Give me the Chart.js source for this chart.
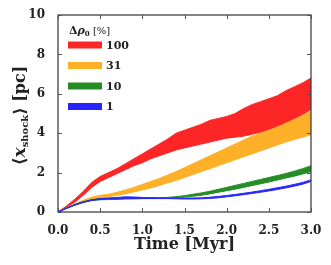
<!DOCTYPE html>
<html>
<head>
<meta charset="utf-8">
<script src="https://cdn.jsdelivr.net/npm/chart.js@4"></script>
<style>
  html, body { margin: 0; padding: 0; background: #fff; }
  #wrap { width: 331px; height: 265px; }
</style>
</head>
<body>
<div id="wrap"><canvas id="shock-chart" width="331" height="265"></canvas></div>
<script>
// time axis, Myr
const times = [0, 0.1, 0.2, 0.3, 0.4, 0.5, 0.6, 0.7, 0.8, 0.9, 1.0, 1.1, 1.2, 1.3, 1.4, 1.5,
    1.6, 1.7, 1.8, 1.9, 2.0, 2.1, 2.2, 2.3, 2.4, 2.5, 2.6, 2.7, 2.8, 2.9, 3.0];

// band edges of <x_shock> in pc, one pair per density contrast
const upper100 = [0, 0.3, 0.65, 1.05, 1.5, 1.8, 2.0, 2.2, 2.45, 2.7, 2.95, 3.2, 3.45, 3.7, 4.0, 4.15,
    4.3, 4.45, 4.65, 4.75, 4.85, 5.0, 5.25, 5.45, 5.6, 5.75, 5.9, 6.15, 6.35, 6.55, 6.8];
const lower100 = [0, 0.25, 0.5, 0.85, 1.25, 1.55, 1.75, 1.95, 2.15, 2.35, 2.5, 2.7, 2.85, 3.0, 3.15, 3.25,
    3.35, 3.45, 3.55, 3.65, 3.75, 3.8, 3.85, 3.95, 4.05, 4.15, 4.35, 4.5, 4.7, 4.95, 5.2];
const upper31 = [0, 0.2, 0.4, 0.6, 0.75, 0.85, 0.9, 1.0, 1.12, 1.25, 1.4, 1.55, 1.7, 1.88, 2.05, 2.25,
    2.45, 2.65, 2.85, 3.05, 3.25, 3.45, 3.65, 3.85, 4.0, 4.15, 4.3, 4.5, 4.7, 4.9, 5.1];
const lower31 = [0, 0.2, 0.35, 0.5, 0.62, 0.72, 0.78, 0.85, 0.92, 1.02, 1.12, 1.22, 1.35, 1.48, 1.6, 1.75,
    1.9, 2.05, 2.2, 2.35, 2.5, 2.65, 2.8, 2.95, 3.1, 3.25, 3.4, 3.55, 3.68, 3.8, 3.92];
const upper10 = [0, 0.2, 0.38, 0.52, 0.62, 0.68, 0.7, 0.7, 0.71, 0.72, 0.72, 0.72, 0.72, 0.74, 0.78, 0.83,
    0.9, 0.97, 1.05, 1.15, 1.25, 1.35, 1.45, 1.55, 1.65, 1.75, 1.85, 1.95, 2.07, 2.2, 2.35];
const lower10 = [0, 0.18, 0.35, 0.48, 0.58, 0.62, 0.63, 0.64, 0.66, 0.67, 0.68, 0.69, 0.7, 0.71, 0.73, 0.76,
    0.8, 0.85, 0.92, 1.0, 1.08, 1.16, 1.25, 1.34, 1.43, 1.52, 1.62, 1.72, 1.82, 1.93, 2.05];
const upper1 = [0, 0.2, 0.38, 0.52, 0.62, 0.68, 0.71, 0.74, 0.77, 0.76, 0.74, 0.72, 0.71, 0.71, 0.71, 0.71,
    0.71, 0.72, 0.75, 0.79, 0.84, 0.89, 0.95, 1.01, 1.08, 1.15, 1.23, 1.31, 1.4, 1.5, 1.63];
const lower1 = [0, 0.18, 0.35, 0.49, 0.59, 0.64, 0.66, 0.67, 0.68, 0.68, 0.68, 0.68, 0.68, 0.68, 0.67, 0.66,
    0.66, 0.67, 0.69, 0.72, 0.77, 0.82, 0.88, 0.94, 1.0, 1.07, 1.14, 1.22, 1.31, 1.41, 1.55];

const contrasts = ['100', '31', '10', '1'];
const xTicks = [0, 0.5, 1.0, 1.5, 2.0, 2.5, 3.0];
const yTicks = [0, 2, 4, 6, 8, 10];

const colours = {
    '100': 'rgb(253, 38, 38)',
    '31': 'rgb(254, 176, 40)',
    '10': 'rgb(38, 140, 38)',
    '1': 'rgb(38, 38, 252)'
};
const bands = {
    '100': [upper100, lower100],
    '31': [upper31, lower31],
    '10': [upper10, lower10],
    '1': [upper1, lower1]
};

function pts(arr) {
    return times.map((t, i) => ({x: t, y: arr[i]}));
}

// dataset 0 is drawn on top, so the smallest contrast goes first
const datasets = [];
['1', '10', '31', '100'].forEach(k => {
    const c = colours[k];
    datasets.push({label: k, data: pts(bands[k][0]), borderColor: c, borderWidth: 1,
        pointRadius: 0, fill: false});
    datasets.push({label: k + ' low', data: pts(bands[k][1]), borderColor: c, borderWidth: 1,
        pointRadius: 0, backgroundColor: c, fill: '-1'});
});

const SERIF = '"DejaVu Serif", "Liberation Serif", serif';

const framePlugin = {
    id: 'frame',
    afterDraw(chart) {
        const ctx = chart.ctx;
        const a = chart.chartArea;
        const xs = chart.scales.x, ys = chart.scales.y;
        ctx.save();
        ctx.strokeStyle = '#333';
        ctx.lineWidth = 1.2;
        ctx.strokeRect(a.left, a.top, a.right - a.left, a.bottom - a.top);
        ctx.lineWidth = 1;
        ctx.strokeStyle = '#555';
        ctx.beginPath();
        xTicks.forEach(v => {
            const px = Math.round(xs.getPixelForValue(v)) + 0.5;
            ctx.moveTo(px, a.bottom); ctx.lineTo(px, a.bottom - 4);
            ctx.moveTo(px, a.top); ctx.lineTo(px, a.top + 4);
        });
        yTicks.forEach(v => {
            const py = Math.round(ys.getPixelForValue(v)) + 0.5;
            ctx.moveTo(a.left, py); ctx.lineTo(a.left + 4, py);
            ctx.moveTo(a.right, py); ctx.lineTo(a.right - 4, py);
        });
        ctx.stroke();

        // x title
        ctx.fillStyle = '#222';
        ctx.font = 'bold 16px ' + SERIF;
        ctx.textAlign = 'center';
        ctx.textBaseline = 'middle';
        ctx.fillText('Time [Myr]', (a.left + a.right) / 2, 245);

        // y title, rotated
        ctx.translate(21, (a.top + a.bottom) / 2 + 2);
        ctx.rotate(-Math.PI / 2);
        const parts = [
            {t: '\u27E8', f: 'bold 17px ' + SERIF, dy: 0},
            {t: 'x', f: 'italic bold 17px ' + SERIF, dy: 0},
            {t: 'shock', f: 'bold 10px ' + SERIF, dy: 4},
            {t: '\u27E9 [pc]', f: 'bold 16px ' + SERIF, dy: 0}
        ];
        let w = 0;
        parts.forEach(p => { ctx.font = p.f; w += ctx.measureText(p.t).width; });
        let x = -w / 2;
        ctx.textAlign = 'left';
        parts.forEach(p => {
            ctx.font = p.f;
            ctx.fillText(p.t, x, p.dy);
            x += ctx.measureText(p.t).width;
        });
        ctx.restore();

        // legend inside the axes
        ctx.save();
        ctx.fillStyle = '#222';
        ctx.textBaseline = 'middle';
        ctx.textAlign = 'left';
        let lx = 69;
        const ty = 31;
        [
            {t: '\u0394', f: 'bold 11px ' + SERIF, dy: 0},
            {t: '\u03C1', f: 'italic bold 11px ' + SERIF, dy: 0},
            {t: '0', f: 'bold 7px ' + SERIF, dy: 3},
            {t: ' [%]', f: '10px ' + SERIF, dy: 0}
        ].forEach(p => {
            ctx.font = p.f;
            ctx.fillText(p.t, lx, ty + p.dy);
            lx += ctx.measureText(p.t).width;
        });
        contrasts.forEach((k, i) => {
            const cy = 45 + i * 20.5;
            ctx.fillStyle = colours[k];
            ctx.fillRect(68, cy - 3.5, 34, 7);
            ctx.fillStyle = '#222';
            ctx.font = 'bold 11px ' + SERIF;
            ctx.fillText(k, 106, cy + 1);
        });
        ctx.restore();
    }
};

new Chart(document.getElementById('shock-chart'), {
    type: 'line',
    data: {datasets: datasets},
    options: {
        responsive: false,
        animation: false,
        layout: {padding: {left: 0, top: 15, right: 20, bottom: 0}},
        plugins: {
            legend: {display: false},
            tooltip: {enabled: false}
        },
        scales: {
            x: {
                type: 'linear',
                min: 0,
                max: 3,
                grid: {display: false},
                border: {display: false},
                afterBuildTicks: s => { s.ticks = xTicks.map(v => ({value: v})); },
                afterFit: s => { s.height = 53; },
                ticks: {
                    padding: 4,
                    color: '#222',
                    font: {family: SERIF, size: 12, weight: 'bold'},
                    callback: v => v.toFixed(1)
                }
            },
            y: {
                min: 0,
                max: 10,
                grid: {display: false},
                border: {display: false},
                afterBuildTicks: s => { s.ticks = yTicks.map(v => ({value: v})); },
                afterFit: s => { s.width = 58; },
                ticks: {
                    padding: 5,
                    color: '#222',
                    font: {family: SERIF, size: 12, weight: 'bold'}
                }
            }
        }
    },
    plugins: [framePlugin]
});
</script>
</body>
</html>
